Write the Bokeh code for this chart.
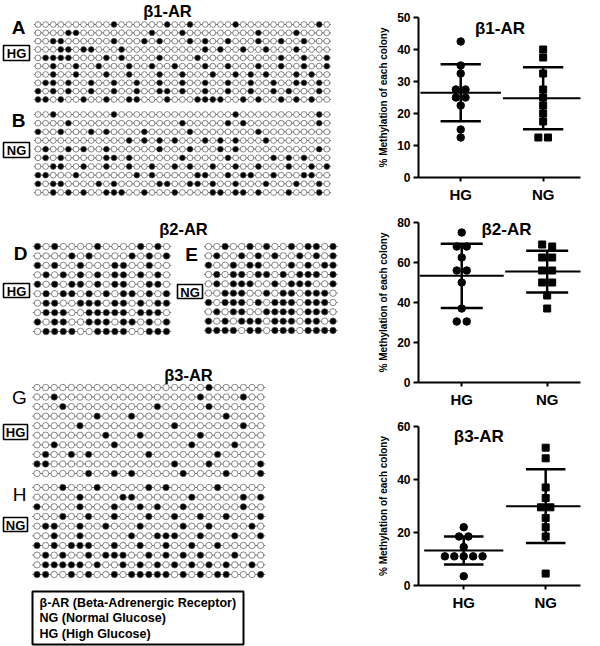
import numpy as np
from bokeh.plotting import figure
from bokeh.layouts import row, column
from bokeh.models import Range1d, Label, FixedTicker
from bokeh.embed import file_html
from bokeh.resources import INLINE
from bokeh.core.properties import value

FONT = "Liberation Sans"

# ---------------- data ----------------
groups = ["HG", "NG"]

b1_hg = [42.5, 35, 32.5, 27.5, 27.5, 25, 25, 22.5, 15, 12.5]
b1_ng = [40, 37.5, 32.5, 27.5, 25, 22.5, 20, 17.5, 12.5, 12.5]
b2_hg = [75, 68, 68, 62.5, 56, 56, 50, 37, 30.5, 30.5]
b2_ng = [69, 68, 62.5, 62.5, 56, 56, 50, 50, 43.5, 37]
b3_hg = [22, 18.5, 18.5, 14.5, 11, 11, 11, 11, 11, 3.5]
b3_ng = [52, 48, 37, 33, 29.5, 29.5, 25.5, 22, 18.5, 4.5]

y_ticks_b1 = [0, 10, 20, 30, 40, 50]
y_ticks_b2 = [0, 20, 40, 60, 80]
y_ticks_b3 = [0, 20, 40, 60]

# methylated CpG sites (index of filled circle) per clone
b1_sites = 39
b1_hg_meth = [
    [10, 17, 20, 26, 37],
    [4, 5, 15, 19, 29, 34],
    [2, 3, 10, 14, 16, 20, 22, 25, 29, 32, 35],
    [3, 4, 6, 7, 11, 22, 24, 27, 30, 34],
    [1, 2, 3, 4, 9, 11, 16, 21, 32, 35, 38],
    [2, 5, 8, 12, 15, 18, 22, 25, 29, 32, 35, 38],
    [2, 5, 9, 12, 16, 19, 23, 26, 28, 30, 34, 36],
    [1, 2, 4, 7, 10, 13, 16, 19, 22, 25, 28, 31, 34, 35, 37],
    [0, 2, 4, 7, 10, 13, 16, 17, 19, 22, 25, 28, 31, 33, 37],
    [0, 1, 3, 6, 9, 12, 13, 17, 21, 22, 23, 24, 27, 29, 32, 34, 36],
]
b1_ng_meth = [
    [2, 10, 26, 37],
    [4, 19, 25, 27, 37],
    [0, 3, 7, 9, 14, 20, 29],
    [12, 14, 16, 18, 22, 24, 26, 30],
    [1, 4, 6, 9, 16, 20, 24, 26, 37],
    [1, 3, 9, 10, 12, 19, 25, 31, 33, 35],
    [2, 3, 6, 9, 12, 15, 18, 20, 23, 26, 29, 33, 36, 38],
    [0, 1, 5, 13, 15, 21, 22, 25, 27, 28, 31, 35, 36],
    [0, 2, 3, 8, 10, 16, 17, 20, 21, 23, 26, 30, 34, 37],
    [2, 4, 6, 9, 10, 11, 14, 18, 23, 24, 26, 27, 29, 33, 37],
]
b2_sites = 16
b2_hg_meth = [
    [0, 2, 7, 12, 14],
    [4, 6, 11, 13, 15],
    [0, 2, 5, 9, 10, 13],
    [1, 3, 5, 7, 9, 10, 12, 14],
    [0, 2, 4, 5, 7, 9, 10, 13, 14],
    [1, 3, 4, 6, 8, 10, 11, 13, 15],
    [1, 2, 5, 6, 7, 9, 10, 12, 14, 15],
    [1, 2, 3, 6, 7, 8, 9, 10, 12, 13, 14],
    [0, 2, 3, 6, 7, 8, 10, 11, 13, 15],
    [1, 2, 3, 4, 7, 8, 9, 10, 13, 14, 15],
]
b2_ng_meth = [
    [2, 5, 7, 10, 12, 13, 15],
    [1, 4, 6, 8, 11, 13, 15],
    [0, 3, 5, 6, 10, 12, 14, 15],
    [1, 3, 4, 6, 7, 9, 11, 12, 13, 15],
    [1, 3, 4, 5, 8, 10, 11, 12, 15],
    [2, 3, 4, 7, 9, 10, 12, 13, 14],
    [0, 2, 3, 4, 6, 8, 9, 10, 12, 13, 14],
    [1, 3, 4, 7, 8, 9, 10, 12, 13, 14],
    [0, 2, 4, 5, 6, 8, 9, 10, 12, 13, 15],
    [0, 1, 2, 3, 5, 6, 8, 9, 10, 12, 13, 14, 15],
]
b3_sites = 27
b3_hg_meth = [
    [20],
    [2, 19, 24],
    [3, 14, 20],
    [7, 11, 22],
    [5, 16, 24],
    [8, 12, 19],
    [2, 9, 18, 23],
    [1, 4, 6, 13, 21],
    [0, 1, 16, 20, 26],
    [6, 9, 11, 17, 22, 26],
]
b3_ng_meth = [
    [3, 7, 13, 15, 21],
    [5, 10, 11, 18, 24, 26],
    [0, 5, 9, 12, 14, 17, 24],
    [3, 6, 9, 13, 16, 19, 22, 26],
    [1, 2, 5, 8, 12, 17, 20, 25],
    [2, 5, 11, 14, 15, 16, 19, 23, 26],
    [0, 2, 4, 5, 6, 9, 12, 15, 18, 21],
    [1, 3, 6, 8, 9, 10, 13, 15, 17, 19, 23],
    [1, 2, 3, 4, 5, 7, 10, 12, 14, 16, 18, 20, 22, 25],
    [0, 1, 4, 6, 9, 11, 12, 13, 14, 15, 17, 19, 21, 22, 26],
]

receptor_titles = ["β1-AR", "β2-AR", "β3-AR"]
panel_letters = ["A", "B", "C", "D", "E", "F", "G", "H", "I"]
legend_lines = ["β-AR (Beta-Adrenergic Receptor)", "NG (Normal Glucose)", "HG (High Glucose)"]
y_axis_title = "% Methylation of each colony"


# ---------------- helpers ----------------
def txt(fig, x, y, s, size, bold=True, align="center", baseline="middle"):
    fig.text(x=[x], y=[y], text=[s], text_font=value(FONT), text_font_size=f"{size}px",
             text_font_style="bold" if bold else "normal", text_align=align,
             text_baseline=baseline, text_color="black")


def box_label(fig, l, r, t, b, s):
    fig.quad(left=[l], right=[r], top=[t], bottom=[b], fill_color="white",
             line_color="black", line_width=1.6)
    txt(fig, (l + r) / 2, (t + b) / 2 + 0.5, s, 13)


def draw_block(fig, meth, n_sites, x0, dx, y_top, y_bot, size):
    n = len(meth)
    ys = np.linspace(y_top, y_bot, n)
    xs = x0 + dx * np.arange(n_sites)
    fig.segment(x0=[xs[0] - dx * 0.55] * n, y0=ys, x1=[xs[-1] + dx * 0.55] * n, y1=ys,
                line_color="#777777", line_width=1)
    X, Y, F = [], [], []
    for r, idx in enumerate(meth):
        s = set(idx)
        for c in range(n_sites):
            X.append(xs[c]); Y.append(ys[r]); F.append("black" if c in s else "white")
    fig.scatter(X, Y, size=size, marker="circle", fill_color=F, line_color="#555555",
                line_width=0.7)


# ---------------- left panel (methylation maps) ----------------
LW, H = 353, 646
L = figure(width=LW, height=H, x_range=Range1d(0, LW), y_range=Range1d(H, 0),
           output_backend="svg", toolbar_location=None, min_border=0,
           x_axis_location=None, y_axis_location=None)
L.grid.visible = False
L.outline_line_color = None

# beta1
txt(L, 167, 10, receptor_titles[0], 16.5)
txt(L, 18, 27, panel_letters[0], 19)
box_label(L, 3, 29, 45, 60, groups[0])
draw_block(L, b1_hg_meth, b1_sites, 37.5, 7.6, 24, 99, 5.8)
txt(L, 18, 120, panel_letters[1], 19)
box_label(L, 3, 29, 142, 157, groups[1])
draw_block(L, b1_ng_meth, b1_sites, 37.5, 7.6, 114, 192, 5.8)

# beta2
txt(L, 183, 228, receptor_titles[1], 16.5)
txt(L, 20, 253, panel_letters[3], 19)
box_label(L, 3, 29, 283, 297, groups[0])
draw_block(L, b2_hg_meth, b2_sites, 37, 8.6, 246, 331, 6.4)
txt(L, 191, 254, panel_letters[4], 19)
box_label(L, 177, 202, 284, 298, groups[1])
draw_block(L, b2_ng_meth, b2_sites, 208, 8.3, 246, 330, 6.4)

# beta3
txt(L, 188, 374, receptor_titles[2], 16.5)
txt(L, 19, 397, panel_letters[6], 19, bold=False)
box_label(L, 3, 27, 424, 439, groups[0])
draw_block(L, b3_hg_meth, b3_sites, 36.5, 8.6, 387, 473, 6.4)
txt(L, 19, 494, panel_letters[7], 19, bold=False)
box_label(L, 3, 27, 517, 531, groups[1])
draw_block(L, b3_ng_meth, b3_sites, 36.5, 8.6, 487, 574, 6.4)

# legend box
L.quad(left=[32], right=[243], top=[591], bottom=[644], fill_color="white",
       line_color="black", line_width=2)
for i, s in enumerate(legend_lines):
    txt(L, 39, 602 + 15.5 * i, s, 12.5, align="left")


# ---------------- right panels (scatter) ----------------
def swarm(vals, ppy, ppx, gap=6.0, step=10.0):
    order = sorted(range(len(vals)), key=lambda i: -vals[i])
    offs = [0.0] * len(vals)
    clusters, cur = [], [order[0]]
    for a, b in zip(order, order[1:]):
        if (vals[a] - vals[b]) * ppy < gap:
            cur.append(b)
        else:
            clusters.append(cur)
            cur = [b]
    clusters.append(cur)
    for c in clusters:
        n = len(c)
        for k, i in enumerate(c):
            offs[i] = (k - (n - 1) / 2) * step / ppx
    return offs


RW = 600 - LW


def scatter_panel(hg, ng, yticks, title, letter, height, b_top, b_bot, b_right, xr,
                  title_px, letter_px):
    ymax = yticks[-1]
    b_left = 65
    fw = RW - b_left - b_right
    fh = height - b_top - b_bot
    ppx = fw / (xr[1] - xr[0])
    ppy = fh / ymax
    p = figure(width=RW, height=height, x_range=Range1d(*xr), y_range=Range1d(0, ymax),
               output_backend="svg", toolbar_location=None, min_border_left=b_left,
               min_border_right=b_right, min_border_top=b_top, min_border_bottom=b_bot)
    p.grid.visible = False
    p.outline_line_color = None
    p.background_fill_color = "white"

    for gi, (vals, marker, msize) in enumerate([(hg, "circle", 7.5), (ng, "square", 7)]):
        cx = gi + 1
        offs = swarm(vals, ppy, ppx)
        p.scatter([cx + o for o in offs], vals, marker=marker, size=msize,
                  fill_color="black", line_color="black")
        m = float(np.mean(vals))
        s = float(np.std(vals, ddof=1))
        mh = 42 / ppx
        ch = 21 / ppx
        p.segment(x0=[cx - mh], y0=[m], x1=[cx + mh], y1=[m], line_color="black", line_width=2)
        p.segment(x0=[cx], y0=[m - s], x1=[cx], y1=[m + s], line_color="black", line_width=2.5)
        p.segment(x0=[cx - ch, cx - ch], y0=[m - s, m + s], x1=[cx + ch, cx + ch],
                  y1=[m - s, m + s], line_color="black", line_width=2.5)

    xa = p.xaxis[0]
    xa.ticker = FixedTicker(ticks=[1, 2])
    xa.major_label_overrides = {1: groups[0], 2: groups[1]}
    xa.minor_tick_line_color = None
    xa.major_tick_in = 0
    xa.major_tick_out = 4
    xa.axis_line_width = 2
    xa.major_tick_line_width = 2
    xa.major_label_standoff = 4
    xa.major_label_text_font = FONT
    xa.major_label_text_font_size = "15px"
    xa.major_label_text_font_style = "bold"
    xa.major_label_text_color = "black"

    ya = p.yaxis[0]
    ya.ticker = FixedTicker(ticks=yticks)
    ya.minor_tick_line_color = None
    ya.major_tick_in = 0
    ya.major_tick_out = 5
    ya.axis_line_width = 2
    ya.major_tick_line_width = 2
    ya.major_label_standoff = 3
    ya.major_label_text_font = FONT
    ya.major_label_text_font_size = "12px"
    ya.major_label_text_font_style = "bold"
    ya.major_label_text_color = "black"
    ya.axis_label = y_axis_title
    ya.axis_label_text_font = FONT
    ya.axis_label_text_font_size = "10px"
    ya.axis_label_text_font_style = "bold"
    ya.axis_label_text_color = "black"
    ya.axis_label_standoff = 5

    tx = xr[0] + title_px[0] / ppx
    ty = ymax - title_px[1] / ppy
    p.add_layout(Label(x=tx, y=ty, text=title, text_font=FONT, text_font_size="17px",
                       text_font_style="bold", text_align="center", text_baseline="middle",
                       text_color="black"))
    lx = xr[0] + letter_px[0] / ppx
    ly = ymax - letter_px[1] / ppy
    p.add_layout(Label(x=lx, y=ly, text=letter, text_font=FONT, text_font_size="20px",
                       text_font_style="bold", text_align="center", text_baseline="middle",
                       text_color="black"))
    return p


C = scatter_panel(b1_hg, b1_ng, y_ticks_b1, receptor_titles[0], panel_letters[2], 205, 17, 27, 13,
                  (0.488, 2.453), (85, 11), (-46, -7))
F = scatter_panel(b2_hg, b2_ng, y_ticks_b2, receptor_titles[1], panel_letters[5], 205, 17, 26, 20,
                  (0.494, 2.39), (88, 7), (-52, -3))
I = scatter_panel(b3_hg, b3_ng, y_ticks_b3, receptor_titles[2], panel_letters[8], 236, 16, 61, 10,
                  (0.448, 2.425), (64, 10), (-53, -1))

layout = row(L, column(C, F, I))
open("out.html", "w").write(file_html(layout, INLINE))
